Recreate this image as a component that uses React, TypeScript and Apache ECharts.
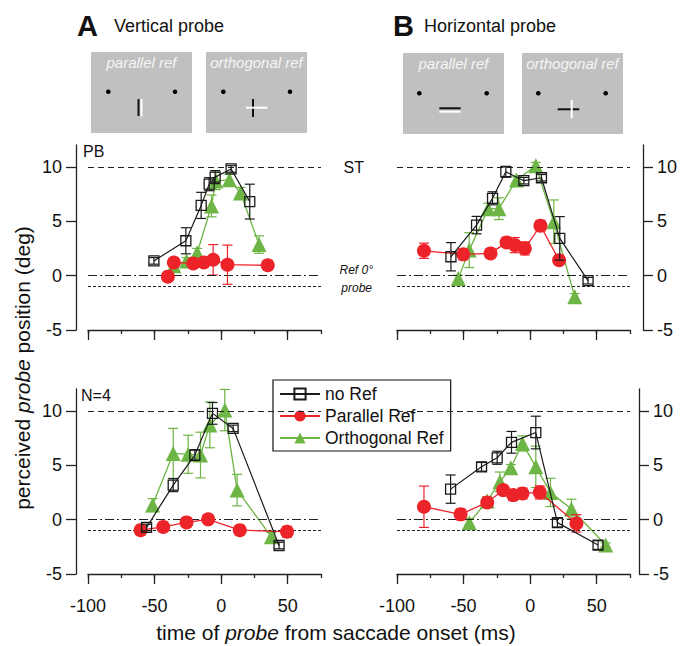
import React, { useEffect, useRef } from "react";
import * as echarts from "echarts";

const FONT = "'Liberation Sans', Arial, Helvetica, sans-serif";

// ---------- Data (time of probe in ms, perceived position in deg, SEM) ----------
// Panel A top (subject PB)
const pbNoRefT = [-50.5, -26.5, -15, -9, -4.5, 7.5, 21.5];
const pbNoRefV = [1.35, 3.2, 6.45, 8.4, 9.05, 9.8, 6.8];
const pbNoRefE = [0.3, 1.2, 1.2, 0.6, 0.6, 0.3, 1.6];
const pbParT = [-40, -35.5, -21, -13, -6, 4.75, 35];
const pbParV = [-0.1, 1.2, 1.12, 1.2, 1.45, 1.0, 0.95];
const pbParE = [0.3, 0.3, 0.3, 0.3, 1.4, 1.8, 0.3];
const pbOrtT = [-35.5, -26, -18, -7.25, -4, 6.25, 14.5, 28.5];
const pbOrtV = [0.9, 1.35, 2.1, 6.4, 8.7, 8.8, 7.6, 2.85];
const pbOrtE = [0.3, 0.3, 0.4, 1.0, 0.8, 0.5, 0.5, 0.8];

// Panel B top (subject ST)
const stNoRefT = [-59.5, -40.25, -28.25, -18.25, -4.75, 8.5, 22.25, 43.5];
const stNoRefV = [1.73, 4.64, 7.1, 9.54, 8.72, 8.99, 3.42, -0.47];
const stNoRefE = [1.3, 0.8, 0.6, 0.5, 0.3, 0.3, 2.0, 0.3];
const stParT = [-79.75, -50.25, -29.75, -17.75, -11.5, -4, 7.75, 21.75];
const stParV = [2.28, 1.95, 2.04, 3.05, 2.8, 2.5, 4.58, 1.42];
const stParE = [0.7, 0.5, 0.3, 0.3, 0.7, 0.6, 0.5, 0.3];
const stOrtT = [-54, -45.75, -31.5, -23.5, -10.25, 4.25, 17.75, 33.5];
const stOrtV = [-0.26, 2.34, 6.15, 6.15, 8.78, 10.1, 4.95, -1.95];
const stOrtE = [0.3, 1.6, 0.5, 1.0, 0.3, 0.3, 2.0, 0.3];

// Panel A bottom (N=4)
const aNoRefT = [-56, -36, -19.75, -6.5, 9, 43.5];
const aNoRefV = [-0.72, 3.17, 5.93, 9.76, 8.38, -2.38];
const aNoRefE = [0.3, 0.6, 0.5, 1.0, 0.3, 0.3];
const aParT = [-60.5, -43.5, -26, -9.75, 14, 49.5];
const aParV = [-0.97, -0.67, -0.26, 0.02, -0.97, -1.12];
const aParE = [0.2, 0.2, 0.2, 0.2, 0.2, 0.5];
const aOrtT = [-51.5, -36, -24.75, -15.5, -8.5, 2.75, 12, 37.75];
const aOrtV = [1.33, 6.08, 6.0, 5.93, 8.7, 10.06, 2.71, -1.58];
const aOrtE = [0.6, 2.3, 1.75, 2.1, 2.1, 1.9, 1.45, 0.4];

// Panel B bottom (N=4)
const bNoRefT = [-59.75, -36.5, -24.75, -14, 4.25, 20.5, 51];
const bNoRefV = [2.8, 4.85, 5.68, 7.1, 8.0, -0.28, -2.34];
const bNoRefE = [1.3, 0.4, 0.6, 1.0, 1.5, 0.4, 0.4];
const bParT = [-79.75, -52.25, -32.25, -20.25, -12.75, -5.75, 7.25, 34.75];
const bParV = [1.18, 0.48, 1.58, 2.71, 2.25, 2.4, 2.5, -0.35];
const bParE = [1.9, 0.5, 0.4, 0.4, 0.5, 0.5, 0.6, 0.8];
const bOrtT = [-45.75, -32.25, -22.75, -14.5, -5.75, 4.25, 15.25, 31, 56.75];
const bOrtV = [-0.28, 1.7, 3.47, 4.76, 7.0, 4.85, 2.5, 0.97, -2.34];
const bOrtE = [0.4, 0.4, 0.9, 0.3, 0.7, 1.9, 1.3, 0.9, 0.2];

const xMajorTicks = [-100, -50, 0, 50];
const yTicks = [-5, 0, 5, 10];
const refLines = [10, 0, -1];

const BLACK = "#1a1a1a";
const RED = "#ec2328";
const GREEN = "#6db544";

const panels = [
  { noRef: [pbNoRefT, pbNoRefV, pbNoRefE], par: [pbParT, pbParV, pbParE], ort: [pbOrtT, pbOrtV, pbOrtE] },
  { noRef: [stNoRefT, stNoRefV, stNoRefE], par: [stParT, stParV, stParE], ort: [stOrtT, stOrtV, stOrtE] },
  { noRef: [aNoRefT, aNoRefV, aNoRefE], par: [aParT, aParV, aParE], ort: [aOrtT, aOrtV, aOrtE] },
  { noRef: [bNoRefT, bNoRefV, bNoRefE], par: [bParT, bParV, bParE], ort: [bOrtT, bOrtV, bOrtE] },
];

const grids = [
  { left: 88, top: 145, width: 233, height: 185 },
  { left: 397, top: 145, width: 233, height: 185 },
  { left: 88, top: 389, width: 233, height: 185 },
  { left: 397, top: 389, width: 233, height: 185 },
];

function errSeries(gi: number, t: number[], v: number[], e: number[], color: string, z: number) {
  return {
    type: "custom",
    name: "err" + gi + color,
    xAxisIndex: gi * 2,
    yAxisIndex: gi,
    z,
    silent: true,
    data: t.map((x, k) => [x, v[k] - e[k], v[k] + e[k]]),
    encode: { x: 0, y: [1, 2] },
    renderItem: (params: any, api: any) => {
      const lo = api.coord([api.value(0), api.value(1)]);
      const hi = api.coord([api.value(0), api.value(2)]);
      const hw = 5;
      const st = { stroke: color, lineWidth: 1.2 };
      return {
        type: "group",
        children: [
          { type: "line", shape: { x1: lo[0], y1: lo[1], x2: hi[0], y2: hi[1] }, style: st },
          { type: "line", shape: { x1: lo[0] - hw, y1: lo[1], x2: lo[0] + hw, y2: lo[1] }, style: st },
          { type: "line", shape: { x1: hi[0] - hw, y1: hi[1], x2: hi[0] + hw, y2: hi[1] }, style: st },
        ],
      };
    },
  };
}

function lineSeries(gi: number, name: string, t: number[], v: number[], kind: string, z: number) {
  const base: any = {
    type: "line",
    name,
    xAxisIndex: gi * 2,
    yAxisIndex: gi,
    z,
    data: t.map((x, k) => [x, v[k]]),
  };
  if (kind === "noRef") {
    base.symbol = "rect";
    base.symbolSize = 10;
    base.itemStyle = { color: "rgba(255,255,255,0)", borderColor: BLACK, borderWidth: 1.3 };
    base.lineStyle = { color: BLACK, width: 1.2 };
  } else if (kind === "par") {
    base.symbol = "circle";
    base.symbolSize = 14;
    base.itemStyle = { color: RED, borderWidth: 0 };
    base.lineStyle = { color: RED, width: 1.3 };
  } else {
    base.symbol = "triangle";
    base.symbolSize = 15;
    base.itemStyle = { color: GREEN, borderWidth: 0 };
    base.lineStyle = { color: GREEN, width: 1.3 };
  }
  return base;
}

function buildOption() {
  const xAxis: any[] = [];
  const yAxis: any[] = [];
  const series: any[] = [];
  const axisLineStyle = { color: "#222", width: 1.3 };
  grids.forEach((g, gi) => {
    const bottomRow = gi >= 2;
    xAxis.push({
      gridIndex: gi, type: "value", min: -100, max: 75, interval: 25, position: "bottom",
      axisLine: { show: true, lineStyle: axisLineStyle, onZero: false },
      axisTick: { show: true, length: 4, lineStyle: axisLineStyle },
      axisLabel: { show: false },
      splitLine: { show: false },
    });
    xAxis.push({
      gridIndex: gi, type: "value", min: -100, max: 75, position: "bottom",
      axisLine: { show: false, onZero: false },
      axisTick: { show: true, length: 10, customValues: xMajorTicks, lineStyle: axisLineStyle },
      axisLabel: { show: bottomRow, customValues: xMajorTicks, fontSize: 18, fontFamily: FONT, color: "#111", margin: 23 },
      splitLine: { show: false },
    });
    const right = gi % 2 === 1;
    yAxis.push({
      gridIndex: gi, type: "value", min: -5, max: 12,
      position: right ? "right" : "left",
      offset: right ? (gi === 1 ? 13 : 9) : 12,
      axisLine: { show: true, lineStyle: axisLineStyle, onZero: false },
      axisTick: { show: true, length: 10, customValues: yTicks, lineStyle: axisLineStyle },
      axisLabel: { customValues: yTicks, fontSize: 18, fontFamily: FONT, color: "#111", margin: 14 },
      splitLine: { show: false },
    });
    // reference lines
    series.push({
      type: "line", name: "ref" + gi, xAxisIndex: gi * 2, yAxisIndex: gi, data: [], z: 1, silent: true,
      markLine: {
        silent: true, symbol: "none", label: { show: false }, animation: false,
        data: [
          { yAxis: refLines[0], lineStyle: { color: "#222", width: 1.1, type: [6, 4] } },
          { yAxis: refLines[1], lineStyle: { color: "#222", width: 1.1, type: [9, 3, 2, 3] } },
          { yAxis: refLines[2], lineStyle: { color: "#222", width: 1.1, type: [3, 2] } },
        ],
      },
    });
    const p = panels[gi];
    series.push(errSeries(gi, p.ort[0], p.ort[1], p.ort[2], GREEN, 2));
    series.push(lineSeries(gi, "Orthogonal Ref", p.ort[0], p.ort[1], "ort", 3));
    series.push(errSeries(gi, p.par[0], p.par[1], p.par[2], RED, 4));
    series.push(lineSeries(gi, "Parallel Ref", p.par[0], p.par[1], "par", 5));
    series.push(errSeries(gi, p.noRef[0], p.noRef[1], p.noRef[2], BLACK, 6));
    series.push(lineSeries(gi, "no Ref", p.noRef[0], p.noRef[1], "noRef", 7));
  });

  const gray = "#c0c0c0";
  const insetText = (x: number, y: number, s: string) => ({
    type: "text", x, y,
    style: { text: s, fill: "#f5f5f5", fontSize: 15, fontStyle: "italic", fontFamily: FONT, align: "center", verticalAlign: "middle" },
  });
  const dot = (x: number, y: number) => ({ type: "circle", shape: { cx: x, cy: y, r: 2.3 }, style: { fill: "#000" } });
  const seg = (x1: number, y1: number, x2: number, y2: number, c: string) => ({
    type: "line", shape: { x1, y1, x2, y2 }, style: { stroke: c, lineWidth: 2 },
  });

  const graphic: any[] = [
    // Panel labels
    { type: "text", x: 77, y: 26, style: { text: "A", fontSize: 29, fontWeight: "bold", fontFamily: FONT, fill: "#111", verticalAlign: "middle" } },
    { type: "text", x: 114, y: 26, style: { text: "Vertical probe", fontSize: 18, fontFamily: FONT, fill: "#111", verticalAlign: "middle" } },
    { type: "text", x: 393, y: 26, style: { text: "B", fontSize: 29, fontWeight: "bold", fontFamily: FONT, fill: "#111", verticalAlign: "middle" } },
    { type: "text", x: 424, y: 26, style: { text: "Horizontal probe", fontSize: 18, fontFamily: FONT, fill: "#111", verticalAlign: "middle" } },
    // Insets A
    { type: "rect", shape: { x: 91, y: 52, width: 101, height: 81 }, style: { fill: gray } },
    { type: "rect", shape: { x: 206, y: 52, width: 101, height: 81 }, style: { fill: gray } },
    insetText(141.5, 62, "parallel ref"),
    insetText(256.5, 62, "orthogonal ref"),
    dot(108.3, 91.7), dot(175, 91.7), dot(223.3, 91.7), dot(290, 91.7),
    seg(138.5, 99, 138.5, 116, "#111"), seg(141.5, 99, 141.5, 116.5, "#fff"),
    seg(253, 99, 253, 117, "#111"), seg(246, 107.7, 267.5, 107.7, "#fff"),
    // Insets B
    { type: "rect", shape: { x: 403, y: 53, width: 101, height: 81 }, style: { fill: gray } },
    { type: "rect", shape: { x: 522, y: 53, width: 101, height: 81 }, style: { fill: gray } },
    insetText(453.5, 63, "parallel ref"),
    insetText(572.5, 63, "orthogonal ref"),
    dot(419.3, 93.3), dot(486.7, 93.3), dot(538.3, 93.3), dot(605.7, 93.3),
    seg(439.3, 108.3, 460.7, 108.3, "#111"), seg(439.3, 111.7, 460.7, 111.7, "#fff"),
    seg(557.7, 109.3, 579.3, 109.3, "#111"), seg(571.7, 100, 571.7, 118.3, "#fff"),
    // annotations
    { type: "text", x: 83, y: 151, style: { text: "PB", fontSize: 16, fontFamily: FONT, fill: "#111", verticalAlign: "middle" } },
    { type: "text", x: 364, y: 167, style: { text: "ST", fontSize: 16, fontFamily: FONT, fill: "#111", align: "right", verticalAlign: "middle" } },
    { type: "text", x: 373, y: 270, style: { text: "Ref 0°", fontSize: 12, fontStyle: "italic", fontFamily: FONT, fill: "#111", align: "right", verticalAlign: "middle" } },
    { type: "text", x: 372, y: 288, style: { text: "probe", fontSize: 12, fontStyle: "italic", fontFamily: FONT, fill: "#111", align: "right", verticalAlign: "middle" } },
    { type: "text", x: 81, y: 395, style: { text: "N=4", fontSize: 16, fontFamily: FONT, fill: "#111", verticalAlign: "middle" } },
    // axis titles
    {
      type: "text", x: 22, y: 368, rotation: Math.PI / 2,
      style: {
        text: "perceived {i|probe} position (deg)", fontSize: 21, fontFamily: FONT, fill: "#111",
        align: "center", verticalAlign: "middle",
        rich: { i: { fontStyle: "italic", fontSize: 21, fontFamily: FONT, fill: "#111" } },
      },
    },
    {
      type: "text", x: 336, y: 632,
      style: {
        text: "time of {i|probe} from saccade onset (ms)", fontSize: 21, fontFamily: FONT, fill: "#111",
        align: "center", verticalAlign: "middle",
        rich: { i: { fontStyle: "italic", fontSize: 21, fontFamily: FONT, fill: "#111" } },
      },
    },
  ];

  return {
    animation: false,
    backgroundColor: "#fff",
    grid: grids.map((g) => ({ ...g, containLabel: false })),
    xAxis,
    yAxis,
    legend: {
      data: ["no Ref", "Parallel Ref", "Orthogonal Ref"],
      orient: "vertical",
      left: 273,
      top: 380,
      borderColor: "#111",
      borderWidth: 1.2,
      borderRadius: 0,
      padding: [4, 7, 3, 6],
      itemWidth: 40,
      itemHeight: 14,
      itemGap: 2,
      selectedMode: false,
      textStyle: { fontSize: 17.5, fontFamily: FONT, color: "#111", lineHeight: 20 },
    },
    graphic,
    series,
  };
}

export default function App() {
  const ref = useRef<HTMLDivElement>(null);
  useEffect(() => {
    if (!ref.current) return;
    const chart = echarts.init(ref.current, null, { renderer: "svg" });
    chart.setOption(buildOption() as any);
    return () => chart.dispose();
  }, []);
  return <div ref={ref} style={{ width: 681, height: 646, position: "absolute", left: 0, top: 0 }} />;
}
